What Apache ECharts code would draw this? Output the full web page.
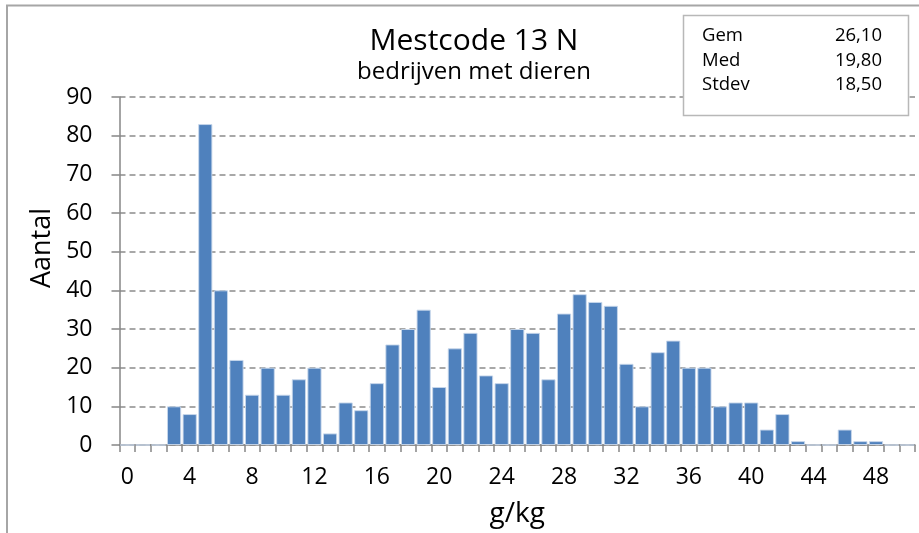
<!DOCTYPE html>
<html>
<head>
<meta charset="utf-8">
<script src="https://cdn.jsdelivr.net/npm/echarts@6/dist/echarts.min.js"></script>
<style>
html,body{margin:0;padding:0;background:#fff;}
#chart{width:919px;height:533px;}
</style>
</head>
<body>
<div id="chart"></div>
<script>
var categories = ['0','1','2','3','4','5','6','7','8','9','10','11','12','13','14','15','16','17','18','19','20','21','22','23','24','25','26','27','28','29','30','31','32','33','34','35','36','37','38','39','40','41','42','43','44','45','46','47','48','49','50'];
var counts = [0,0,0,10,8,83,40,22,13,20,13,17,20,3,11,9,16,26,30,35,15,25,29,18,16,30,29,17,34,39,37,36,21,10,24,27,20,20,10,11,11,4,8,1,0,0,4,1,1,0,0];
var statLabels = ['Gem','Med','Stdev'];
var statValues = ['26,10','19,80','18,50'];
var titleText = 'Mestcode 13 N';
var subtitleText = 'bedrijven met dieren';
var xAxisName = 'g/kg';
var yAxisName = 'Aantal';

var font = 'Open Sans';
var chart = echarts.init(document.getElementById('chart'));

var graphics = [
  {type:'polyline', shape:{points:[[7,533],[7,5.5],[919,5.5]]}, style:{stroke:'#a6a6a6', lineWidth:2, fill:null}},
  {type:'rect', shape:{x:683.5, y:15.5, width:225, height:100}, style:{stroke:'#b8b8b8', lineWidth:1.5, fill:'#fff'}, z:10},
  {type:'text', x:42, y:248, rotation:Math.PI/2, style:{text:yAxisName, fontFamily:font, fontSize:27, fill:'#000', align:'center', verticalAlign:'middle'}}
];
for (var i = 0; i < statLabels.length; i++) {
  graphics.push({type:'text', z:11, x:702, y:36 + i*24.5, style:{text:statLabels[i], fontFamily:font, fontSize:18.5, fill:'#000', align:'left', verticalAlign:'middle'}});
  graphics.push({type:'text', z:11, x:882, y:36 + i*24.5, style:{text:statValues[i], fontFamily:font, fontSize:18.5, fill:'#000', align:'right', verticalAlign:'middle'}});
}

chart.setOption({
  animation:false,
  backgroundColor:'#fff',
  title:[
    {text:titleText, left:469, top:21, textAlign:'center', textStyle:{fontFamily:font, fontSize:30, fontWeight:'normal', color:'#000'}},
    {text:subtitleText, left:469, top:55, textAlign:'center', textStyle:{fontFamily:font, fontSize:24, fontWeight:'normal', color:'#000'}}
  ],
  grid:{left:119.5, right:4, top:97, bottom:86, containLabel:false},
  xAxis:{
    type:'category',
    data:categories,
    name:xAxisName,
    nameLocation:'middle',
    nameGap:55,
    nameTextStyle:{fontFamily:font, fontSize:28, color:'#000'},
    axisLine:{lineStyle:{color:'#868686', width:1.5}},
    axisTick:{show:true, interval:0, length:7, lineStyle:{color:'#868686', width:1.5}},
    axisLabel:{interval:3, fontFamily:font, fontSize:23, color:'#000', margin:21}
  },
  yAxis:{
    type:'value',
    min:0, max:90, interval:10,
    axisLine:{show:true, lineStyle:{color:'#868686', width:1.5}},
    axisTick:{show:true, length:8, lineStyle:{color:'#868686', width:1.5}},
    axisLabel:{fontFamily:font, fontSize:23, color:'#000', margin:27},
    splitLine:{show:true, lineStyle:{color:'#8c8c8c', type:[6,4], width:1.5}}
  },
  series:[{
    type:'bar',
    data:counts,
    barCategoryGap:'9%',
    itemStyle:{color:'#4F81BD', borderColor:'rgba(200,215,235,0.9)', borderWidth:1}
  }],
  graphic:graphics
});
</script>
</body>
</html>
